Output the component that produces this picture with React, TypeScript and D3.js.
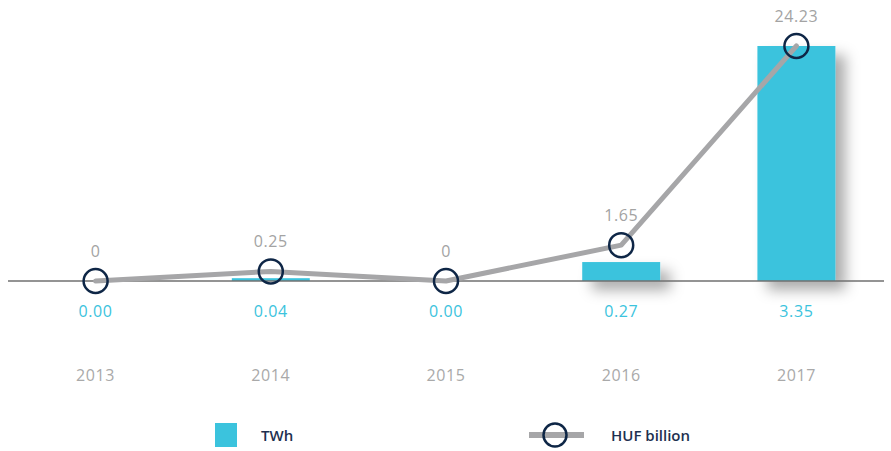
import React from "react";
import * as d3 from "d3";

const years = ["2013", "2014", "2015", "2016", "2017"];
const twh = [0.0, 0.04, 0.0, 0.27, 3.35];
const twhLabels = ["0.00", "0.04", "0.00", "0.27", "3.35"];
const huf = [0, 0.25, 0, 1.65, 24.23];
const hufLabels = ["0", "0.25", "0", "1.65", "24.23"];

const W = 891;
const H = 451;
const FONT = "'Open Sans', sans-serif";

export default function App() {
  const x = d3
    .scaleBand<string>()
    .domain(years)
    .range([8, 884])
    .paddingInner(0.555)
    .paddingOuter(0.2775);
  const base = 281;
  const yBar = d3.scaleLinear().domain([0, 3.35]).range([base, 46]);
  const yLine = d3.scalePow().exponent(0.7).domain([0, 24.23]).range([base, 46]);
  const cx = (y: string) => (x(y) as number) + x.bandwidth() / 2;

  const linePath = d3
    .line<number>()
    .x((_, i) => cx(years[i]))
    .y((d) => yLine(d))(huf) as string;

  return (
    <svg
      width={W}
      height={H}
      style={{ position: "absolute", left: 0, top: 0, background: "#fff" }}
      fontFamily={FONT}
    >
      <defs>
        <filter id="shadow" x="-20%" y="-50%" width="170%" height="300%" filterUnits="objectBoundingBox">
          <feOffset in="SourceAlpha" dx="10" dy="9" result="off" />
          <feGaussianBlur in="off" stdDeviation="7" result="blur" />
          <feFlood floodColor="#000" floodOpacity="0.33" />
          <feComposite in2="blur" operator="in" result="sh" />
          <feMerge>
            <feMergeNode in="sh" />
            <feMergeNode in="SourceGraphic" />
          </feMerge>
        </filter>
      </defs>
      {years.map((yr, i) =>
        twh[i] > 0 ? (
          <rect
            key={"b" + yr}
            x={x(yr)}
            y={yBar(twh[i])}
            width={x.bandwidth()}
            height={base - yBar(twh[i])}
            fill="#3bc3dd"
            filter="url(#shadow)"
          />
        ) : null
      )}
      <line x1={8} x2={884} y1={base} y2={base} stroke="#707070" strokeWidth={1.5} />
      <path
        d={linePath}
        fill="none"
        stroke="#a6a6a8"
        strokeWidth={5}
        strokeLinejoin="round"
        strokeLinecap="round"
      />
      {years.map((yr, i) => (
        <circle
          key={"c" + yr}
          cx={cx(yr)}
          cy={yLine(huf[i])}
          r={12}
          fill="none"
          stroke="#0e2646"
          strokeWidth={2.5}
        />
      ))}
      {years.map((yr, i) => (
        <text
          key={"h" + yr}
          x={cx(yr)}
          y={yLine(huf[i]) - 30}
          dy="0.35em"
          textAnchor="middle"
          fontSize={16}
          fill="#a3a3a3"
          letterSpacing={0.6}
        >
          {hufLabels[i]}
        </text>
      ))}
      {years.map((yr, i) => (
        <text
          key={"t" + yr}
          x={cx(yr)}
          y={311}
          dy="0.35em"
          textAnchor="middle"
          fontSize={16}
          fill="#3bc3dd"
          letterSpacing={0.6}
        >
          {twhLabels[i]}
        </text>
      ))}
      {years.map((yr) => (
        <text
          key={"y" + yr}
          x={cx(yr)}
          y={375}
          dy="0.35em"
          textAnchor="middle"
          fontSize={16}
          fill="#a9a9a9"
          letterSpacing={0.6}
        >
          {yr}
        </text>
      ))}
      <g>
        <rect x={215} y={423} width={22} height={24} fill="#3bc3dd" />
        <text x={261} y={436} dy="0.35em" fontSize={15} fontWeight={600} fill="#1e3050">
          TWh
        </text>
        <line x1={529} x2={584} y1={435} y2={435} stroke="#a6a6a8" strokeWidth={6} />
        <circle cx={555} cy={435} r={11.5} fill="none" stroke="#0e2646" strokeWidth={2.5} />
        <text x={611} y={436} dy="0.35em" fontSize={15} fontWeight={600} fill="#1e3050">
          HUF billion
        </text>
      </g>
    </svg>
  );
}
